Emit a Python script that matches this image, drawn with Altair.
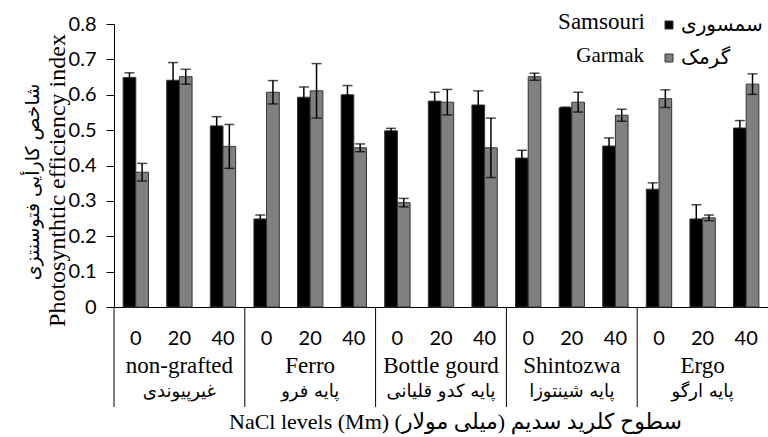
import altair as alt
import pandas as pd

groups = ["non-grafted", "Ferro", "Bottle gourd", "Shintozwa", "Ergo"]
groups_fa = ["غیرپیوندی", "پایه فرو", "پایه کدو قلیانی", "پایه شینتوزا", "پایه ارگو"]
levels = ["0", "20", "40"]
series = ["Samsouri", "Garmak"]
series_fa = ["سمسوری", "گرمک"]
samsouri = [0.649, 0.641, 0.512, 0.249, 0.593, 0.600, 0.498, 0.582, 0.571,
            0.421, 0.563, 0.455, 0.333, 0.249, 0.506]
samsouri_err = [0.013, 0.050, 0.026, 0.011, 0.029, 0.026, 0.007, 0.025, 0.040,
                0.022, 0.002, 0.023, 0.018, 0.040, 0.021]
garmak = [0.381, 0.651, 0.454, 0.607, 0.611, 0.450, 0.295, 0.579, 0.450,
          0.651, 0.579, 0.542, 0.589, 0.252, 0.630]
garmak_err = [0.025, 0.021, 0.062, 0.033, 0.077, 0.011, 0.012, 0.036, 0.084,
              0.010, 0.028, 0.017, 0.025, 0.008, 0.029]
y_ticks = [0, 0.1, 0.2, 0.3, 0.4, 0.5, 0.6, 0.7, 0.8]
y_title_en = "Photosynthtic efficiency index"
y_title_fa = "شاخص کارأیی فتوسنتزی"
x_title = "NaCl levels (Mm) سطوح کلرید سدیم (میلی مولار)"

cats = [f"{g}|{l}" for g in groups for l in levels]
rows = []
for i, c in enumerate(cats):
    for s, vals, errs in [("Samsouri", samsouri, samsouri_err), ("Garmak", garmak, garmak_err)]:
        rows.append({"cat": c, "series": s, "value": vals[i],
                     "lo": vals[i] - errs[i], "hi": vals[i] + errs[i]})
df = pd.DataFrame(rows)

gdf = pd.DataFrame({"group": groups, "fa": groups_fa,
                    "mid": [f"{g}|20" for g in groups],
                    "start": [f"{g}|0" for g in groups]})

W, H = 654, 283
SERIF = "Liberation Serif, DejaVu Serif, DejaVu Sans"
FA = "DejaVu Sans"
SANS = "Lato"

xscale = alt.Scale(domain=cats, paddingInner=0, paddingOuter=0)
x_axis = alt.Axis(
    labelExpr="split(datum.label, '|')[1]", ticks=False, labelAngle=0,
    labelFont=SANS, labelFontSize=20, labelColor="black", labelPadding=21,
    domainColor="black", domainWidth=1,
    title=x_title,
    titleFont=SERIF, titleFontSize=22, titleFontWeight="normal", titleColor="black",
    titleX=341, titleY=114, titleBaseline="middle", titleAlign="center",
)
y_axis = alt.Axis(
    values=y_ticks, format=".1~f", tickCount=9,
    grid=False, tickSize=8, tickColor="black", domainColor="black",
    labelFont=SANS, labelFontSize=20, labelColor="black", labelPadding=10,
    labelOverlap=False,
    title=y_title_en,
    titleFont=SERIF, titleFontSize=24, titleFontWeight="normal", titleColor="black",
    titleAngle=270, titleX=-57, titleY=156, titleBaseline="middle",
    titleAlign="center",
)
yscale = alt.Scale(domain=[0, 0.8], nice=False)
offscale = alt.Scale(domain=series, paddingInner=0, paddingOuter=0.72)

base = alt.Chart(df)
bars = base.mark_bar(stroke="#333333", strokeWidth=1).encode(
    x=alt.X("cat:N", scale=xscale, axis=x_axis, sort=cats),
    xOffset=alt.XOffset("series:N", scale=offscale, sort=series),
    y=alt.Y("value:Q", scale=yscale, axis=y_axis),
    color=alt.Color("series:N", sort=series,
                    scale=alt.Scale(domain=series, range=["#000000", "#808080"]),
                    legend=alt.Legend(
                        orient="none", legendX=545, legendY=-9, title=None,
                        symbolType="square", symbolSize=64, symbolStrokeColor="#333333",
                        symbolStrokeWidth=1, padding=0, rowPadding=13,
                        labelFont=FA, labelFontSize=20, labelColor="black",
                        labelOffset=2,
                        labelExpr="datum.label == 'Samsouri' ? 'سمسوری' : 'گرمک'")),
)
err = base.mark_rule(color="black", strokeWidth=1.5).encode(
    x=alt.X("cat:N", sort=cats, axis=x_axis),
    xOffset=alt.XOffset("series:N", sort=series),
    y=alt.Y("lo:Q", axis=y_axis), y2="hi:Q",
)
cap_hi = base.mark_tick(color="black", thickness=1.5, size=10).encode(
    x=alt.X("cat:N", sort=cats, axis=x_axis),
    xOffset=alt.XOffset("series:N", sort=series),
    y=alt.Y("hi:Q", axis=y_axis),
)
cap_lo = base.mark_tick(color="black", thickness=1.5, size=10).encode(
    x=alt.X("cat:N", sort=cats, axis=x_axis),
    xOffset=alt.XOffset("series:N", sort=series),
    y=alt.Y("lo:Q", axis=y_axis),
)

gbase = alt.Chart(gdf)
sep = gbase.mark_rule(color="black", strokeWidth=1).encode(
    x=alt.X("start:N", sort=cats, bandPosition=0, axis=x_axis),
    y=alt.value(H), y2=alt.value(H + 100),
)
gname = gbase.mark_text(font=SERIF, fontSize=23, color="black", baseline="middle").encode(
    x=alt.X("mid:N", sort=cats, axis=x_axis), y=alt.value(H + 59), text="group:N",
)
gfa = gbase.mark_text(font=FA, fontSize=18, color="black", baseline="middle").encode(
    x=alt.X("mid:N", sort=cats, axis=x_axis), y=alt.value(H + 85), text="fa:N",
)

ytfa = alt.Chart(pd.DataFrame({"t": [y_title_fa]})).mark_text(
    font=FA, fontSize=19, color="black", angle=270, align="center", baseline="middle"
).encode(x=alt.value(-81), y=alt.value(158), text="t:N")

leg_s = alt.Chart(pd.DataFrame({"name": [series[0]]})).mark_text(
    font=SERIF, fontSize=23, color="black", align="right", baseline="middle"
).encode(x=alt.value(531), y=alt.value(-2), text="name:N")
leg_g = alt.Chart(pd.DataFrame({"name": [series[1]]})).mark_text(
    font=SERIF, fontSize=21, color="black", align="right", baseline="middle"
).encode(x=alt.value(530), y=alt.value(32), text="name:N")

chart = alt.layer(bars, err, cap_hi, cap_lo, sep, gname, gfa, ytfa, leg_s, leg_g).properties(
    width=W, height=H,
    autosize=alt.AutoSizeParams(type="none"),
    padding={"left": 114, "top": 24, "right": 0, "bottom": 130},
).configure_view(stroke=None)

chart.save("out.html", embed_options={"renderer": "svg", "actions": False})
